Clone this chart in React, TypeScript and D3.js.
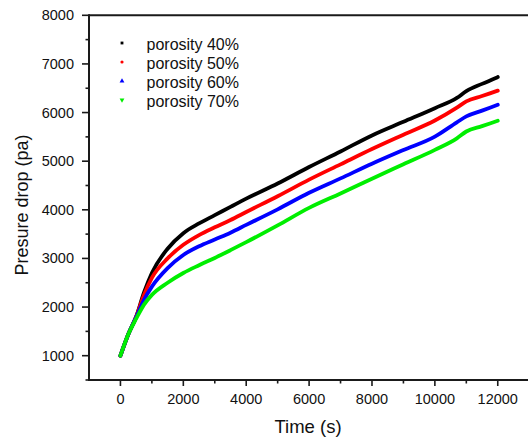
import React from "react";
import * as d3 from "d3";

const times = [0, 250, 500, 750, 1000, 1500, 2000, 2500, 3000, 3500, 4000, 5000, 6000, 7000, 8000, 9000, 10000, 10700, 11000, 11500, 12000];
const p40 = [1000, 1440, 1800, 2300, 2700, 3200, 3520, 3720, 3890, 4060, 4230, 4540, 4880, 5200, 5530, 5810, 6090, 6300, 6440, 6590, 6730];
const p50 = [1000, 1440, 1800, 2250, 2600, 3000, 3280, 3480, 3640, 3790, 3955, 4280, 4620, 4935, 5250, 5545, 5836, 6100, 6230, 6340, 6450];
const p60 = [1000, 1440, 1790, 2150, 2420, 2800, 3070, 3250, 3390, 3530, 3690, 4010, 4350, 4646, 4948, 5230, 5506, 5800, 5920, 6040, 6160];
const p70 = [1000, 1440, 1760, 2050, 2250, 2500, 2700, 2860, 3010, 3170, 3335, 3680, 4040, 4337, 4640, 4936, 5232, 5470, 5610, 5720, 5830];

const seriesNames = ["porosity 40%", "porosity 50%", "porosity 60%", "porosity 70%"];
const seriesValues = [p40, p50, p60, p70];
const seriesColors = ["#000000", "#ff0000", "#0000ff", "#00ee00"];

const xMajor = [0, 2000, 4000, 6000, 8000, 10000, 12000];
const xMinor = [1000, 3000, 5000, 7000, 9000, 11000];
const yMajor = [1000, 2000, 3000, 4000, 5000, 6000, 7000, 8000];
const yMinor = [500, 1500, 2500, 3500, 4500, 5500, 6500, 7500];

export default function App() {
  const W = 528, H = 439;
  const left = 89, right = 529.2, top = 15.3, bottom = 380;
  const x = d3.scaleLinear().domain([-1000, 13000]).range([left, right]);
  const y = d3.scaleLinear().domain([500, 8000]).range([bottom, top]);
  const line = d3.line<number>()
    .x((_, i) => x(times[i]))
    .y((d) => y(d))
    .curve(d3.curveMonotoneX);
  const font = "'Liberation Sans', Arial, sans-serif";
  const axisColor = "#1a1a1a";

  const legendX = 122, textX = 146.5, legendY0 = 44, legendDy = 19;
  const sym = [
    d3.symbol().type(d3.symbolSquare).size(8)(),
    d3.symbol().type(d3.symbolCircle).size(8)(),
    d3.symbol().type(d3.symbolTriangle).size(10)(),
    d3.symbol().type(d3.symbolTriangle).size(10)(),
  ];

  return (
    <svg width={W} height={H} style={{ position: "absolute", left: 0, top: 0, background: "#fff" }}>
      <rect x={0} y={0} width={W} height={H} fill="#fff" />
      {seriesValues.map((vals, i) => (
        <path key={i} d={line(vals) || ""} fill="none" stroke={seriesColors[i]} strokeWidth={3.8} strokeLinejoin="round" strokeLinecap="round" />
      ))}
      {/* frame */}
      <line x1={left} x2={W} y1={top} y2={top} stroke={axisColor} strokeWidth={2} />
      <line x1={right} x2={right} y1={top} y2={bottom} stroke={axisColor} strokeWidth={2} />
      <line x1={left} x2={left} y1={top - 1} y2={bottom + 1} stroke={axisColor} strokeWidth={2} />
      <line x1={left - 1} x2={W} y1={bottom} y2={bottom} stroke={axisColor} strokeWidth={2} />
      {/* x ticks */}
      {xMajor.map((t) => (
        <g key={"xm" + t}>
          <line x1={x(t)} x2={x(t)} y1={bottom} y2={bottom + 6} stroke={axisColor} strokeWidth={1.6} />
          <text x={x(t)} y={404} textAnchor="middle" fontFamily={font} fontSize={14.5} fill="#111">{t}</text>
        </g>
      ))}
      {xMinor.map((t) => (
        <line key={"xn" + t} x1={x(t)} x2={x(t)} y1={bottom} y2={bottom + 3.5} stroke={axisColor} strokeWidth={1.6} />
      ))}
      {/* y ticks */}
      {yMajor.map((v) => (
        <g key={"ym" + v}>
          <line x1={left} x2={left - 7} y1={y(v)} y2={y(v)} stroke={axisColor} strokeWidth={1.6} />
          <text x={74} y={y(v) + 5} textAnchor="end" fontFamily={font} fontSize={14.5} fill="#111">{v}</text>
        </g>
      ))}
      {yMinor.map((v) => (
        <line key={"yn" + v} x1={left} x2={left - 3.5} y1={y(v)} y2={y(v)} stroke={axisColor} strokeWidth={1.6} />
      ))}
      {/* axis titles */}
      <text x={308} y={433} textAnchor="middle" fontFamily={font} fontSize={18.5} fill="#111">Time (s)</text>
      <text transform={`translate(28, 205) rotate(-90)`} textAnchor="middle" fontFamily={font} fontSize={18} fill="#111">Presure drop (pa)</text>
      {/* legend */}
      {seriesNames.map((name, i) => {
        const cy = legendY0 + i * legendDy;
        return (
          <g key={name}>
            <path d={sym[i] || ""} transform={`translate(${legendX}, ${cy - 1}) ${i === 3 ? "rotate(180)" : ""}`} fill={seriesColors[i]} />
            <text x={textX} y={cy + 5.5} fontFamily={font} fontSize={16} fill="#111">{name}</text>
          </g>
        );
      })}
    </svg>
  );
}
